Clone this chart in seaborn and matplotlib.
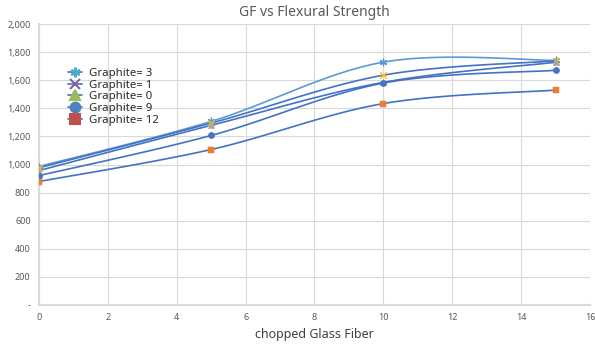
import numpy as np
import pandas as pd
import matplotlib
matplotlib.use("Agg")
import matplotlib.pyplot as plt
import seaborn as sns
from matplotlib.lines import Line2D

glass_fiber = [0, 5, 10, 15]
g3 = [986, 1307, 1729, 1742]
g1 = [977, 1295, 1636, 1738]
g0 = [957, 1279, 1585, 1728]
g9 = [921, 1207, 1580, 1671]
g12 = [879, 1107, 1434, 1530]
series_names = ["Graphite= 3", "Graphite= 1", "Graphite= 0", "Graphite= 9", "Graphite= 12"]
series_values = [g3, g1, g0, g9, g12]
yticks = [0, 200, 400, 600, 800, 1000, 1200, 1400, 1600, 1800, 2000]
ytick_labels = ["-", "200", "400", "600", "800", "1,000", "1,200", "1,400", "1,600", "1,800", "2,000"]
xticks = [0, 2, 4, 6, 8, 10, 12, 14, 16]

line_colors = ["#5b9bd5", "#4472c4", "#4472c4", "#4472c4", "#4472c4"]
marker_colors = ["#5b9bd5", "#ffc000", "#a5a5a5", "#4472c4", "#ed7d31"]
markers = [(6, 2, 0), "x", "^", "o", "s"]
legend_colors = ["#4bacc6", "#8064a2", "#9bbb59", "#4f81bd", "#c0504d"]


def smooth(x, y, n=40):
    # Excel-like Catmull-Rom bezier smoothing
    x = np.asarray(x, float); y = np.asarray(y, float)
    px = np.concatenate([[x[0]], x, [x[-1]]]); py = np.concatenate([[y[0]], y, [y[-1]]])
    xs, ys = [], []
    t = np.linspace(0, 1, n)
    for i in range(1, len(px) - 2):
        p0 = np.array([px[i], py[i]]); p3 = np.array([px[i + 1], py[i + 1]])
        p1 = p0 + (np.array([px[i + 1], py[i + 1]]) - np.array([px[i - 1], py[i - 1]])) / 6
        p2 = p3 - (np.array([px[i + 2], py[i + 2]]) - np.array([px[i], py[i]])) / 6
        b = ((1 - t) ** 3)[:, None] * p0 + (3 * (1 - t) ** 2 * t)[:, None] * p1 + \
            (3 * (1 - t) * t ** 2)[:, None] * p2 + (t ** 3)[:, None] * p3
        xs.extend(b[:, 0]); ys.extend(b[:, 1])
    return np.array(xs), np.array(ys)


sns.set_style("white")
plt.rcParams['font.family'] = ['Noto Sans', 'DejaVu Sans']
fig = plt.figure(figsize=(5.95, 3.44), dpi=100)
ax = fig.add_axes([0.0655, 0.1134, 0.926, 0.8166])

for name, vals, lc, mc, mk in zip(series_names, series_values, line_colors, marker_colors, markers):
    sx, sy = smooth(glass_fiber, vals)
    df = pd.DataFrame({"x": sx, "y": sy})
    sns.lineplot(data=df, x="x", y="y", sort=False, color=lc, lw=1.2, ax=ax, zorder=3)
    dfp = pd.DataFrame({"x": glass_fiber, "y": vals})
    if mk == "x" or isinstance(mk, tuple):
        ax.scatter(dfp["x"], dfp["y"], marker=mk, s=22, c=mc, linewidths=1.0, zorder=4)
    else:
        sns.scatterplot(data=dfp, x="x", y="y", marker=mk, s=20, color=mc, edgecolor=mc, ax=ax, zorder=4)

ax.set_xlim(0, 16)
ax.set_ylim(0, 2000)
ax.set_xticks(xticks)
ax.set_xticklabels([str(v) for v in xticks])
ax.set_yticks(yticks)
ax.set_yticklabels(ytick_labels)
ax.tick_params(axis="both", labelsize=6.5, colors="#595959", length=0, pad=6)
ax.grid(True, color="#d9d9d9", lw=0.8)
for s in ["top", "right"]:
    ax.spines[s].set_visible(False)
for s in ["left", "bottom"]:
    ax.spines[s].set_color("#d9d9d9")
    ax.spines[s].set_linewidth(1.5)
ax.set_xlabel("chopped Glass Fiber", fontsize=9, color="#404040", labelpad=4)
ax.set_ylabel("")
ax.set_title("GF vs Flexural Strength", fontsize=10, color="#595959", pad=6)

handles = []
for name, lc, mk in zip(series_names, legend_colors, markers):
    handles.append(Line2D([0], [0], color="#4472c4", lw=1.2, marker=mk, markersize=7,
                          markerfacecolor=lc, markeredgecolor=lc, markeredgewidth=1.5))
leg = ax.legend(handles, series_names, loc="upper left", bbox_to_anchor=(0.045, 0.859),
                frameon=False, fontsize=8.2, handlelength=1.2, handletextpad=0.6,
                labelspacing=0.05, borderaxespad=0)
for t in leg.get_texts():
    t.set_color("#262626")

fig.savefig("out.png", dpi=100)
